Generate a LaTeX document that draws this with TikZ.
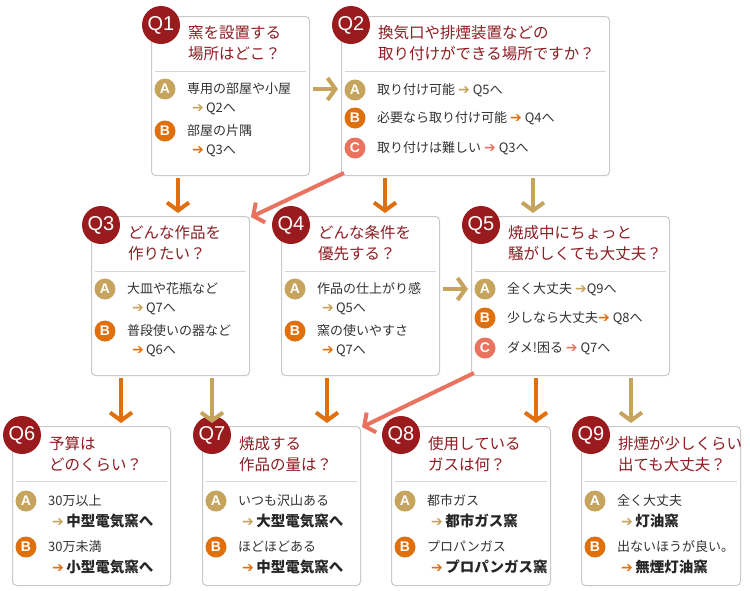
\documentclass[tikz,border=0pt]{standalone}
\usepackage{fontspec}
\setmainfont{Noto Sans CJK JP}
\newfontfamily\latf{Liberation Sans}
\newfontfamily\symf{DejaVu Sans}
\usetikzlibrary{arrows.meta,calc}
\definecolor{qred}{HTML}{9A1B1E}
\definecolor{ttlred}{HTML}{8E1C22}
\definecolor{cgold}{HTML}{C6A45E}
\definecolor{corange}{HTML}{E0700E}
\definecolor{csalmon}{HTML}{E9735E}
\definecolor{boxgray}{HTML}{C9C9C9}
\definecolor{sepgray}{HTML}{D5D5D5}
\definecolor{txtgray}{HTML}{333333}
\newcommand{\garr}[1]{{\color{#1}\symf\fontsize{14}{14}\selectfont ➔}}
\newcommand{\resline}[2]{\hspace*{4pt}{\fontsize{14.5}{21}\selectfont\bfseries\garr{#1}\,\textcolor{black!85}{#2}}}
\tikzset{
  qbox/.style={draw=boxgray, line width=1pt, rounded corners=4pt, fill=white, anchor=north west,
               minimum height=159pt, inner sep=0pt},
  qnum/.style={circle, fill=qred, text=white, minimum size=38pt, inner sep=0pt,
               font=\latf\fontsize{20}{20}\selectfont},
  qtitle/.style={anchor=west, align=left, inner sep=0pt, text=ttlred, font=\fontsize{15.5}{20.5}\selectfont},
  sep/.style={draw=sepgray, line width=0.8pt},
  letter/.style={circle, minimum size=21pt, inner sep=0pt, text=white,
                 font=\latf\bfseries\fontsize{14}{14}\selectfont},
  ans/.style={anchor=west, align=left, inner sep=0pt, text=txtgray, font=\fontsize{13}{19.5}\selectfont},
  res/.style={ans, font=\fontsize{13}{21}\selectfont},
  flow/.style={line width=4pt, -{Straight Barb[length=8pt, width=22pt]}},
}

\begin{document}
\begin{tikzpicture}[x=1pt, y=-1pt]
  \useasboundingbox (0,0) rectangle (750,590);
  % top row
  \node[qbox, minimum width=158pt] (q1) at (151,16) {};
  \node[qbox, minimum width=268pt] (q2) at (341,16) {};
  % middle row
  \node[qbox, minimum width=158pt] (q3) at (91,216) {};
  \node[qbox, minimum width=158pt] (q4) at (281,216) {};
  \node[qbox, minimum width=198pt] (q5) at (471,216) {};
  % bottom row
  \node[qbox, minimum width=158pt] (q6) at (12,426) {};
  \node[qbox, minimum width=158pt] (q7) at (202,426) {};
  \node[qbox, minimum width=159pt] (q8) at (391,426) {};
  \node[qbox, minimum width=159pt] (q9) at (581,426) {};

  % Q1
  \node[qnum] (q1n) at ($(q1.north west)+(10,9)$) {Q1};
  \node[qtitle] (q1t) at ($(q1.north west)+(37,27)$) {窯を設置する\\場所はどこ？};
  \draw[sep] ($(q1.north west)+(4,55)$) -- ($(q1.north east)+(-4,55)$);
  \node[letter, fill=cgold] (q1a) at ($(q1.north west)+(14,73)$) {A};
  \node[ans] (q1at) at ($(q1.north west)+(36,82.5)$) {専用の部屋や小屋\\\hspace*{5pt}\garr{cgold}\,Q2へ};
  \node[letter, fill=corange] (q1b) at ($(q1.north west)+(14,115)$) {B};
  \node[ans] (q1bt) at ($(q1.north west)+(36,124.5)$) {部屋の片隅\\\hspace*{5pt}\garr{corange}\,Q3へ};

  % Q2
  \node[qnum] (q2n) at ($(q2.north west)+(10,9)$) {Q2};
  \node[qtitle] (q2t) at ($(q2.north west)+(37,27)$) {換気口や排煙装置などの\\取り付けができる場所ですか？};
  \draw[sep] ($(q2.north west)+(4,55)$) -- ($(q2.north east)+(-4,55)$);
  \node[letter, fill=cgold] (q2a) at ($(q2.north west)+(14,74)$) {A};
  \node[ans] (q2at) at ($(q2.north west)+(36,74)$) {取り付け可能 \garr{cgold} Q5へ};
  \node[letter, fill=corange] (q2b) at ($(q2.north west)+(14,102)$) {B};
  \node[ans] (q2bt) at ($(q2.north west)+(36,102)$) {必要なら取り付け可能 \garr{corange} Q4へ};
  \node[letter, fill=csalmon] (q2c) at ($(q2.north west)+(14,132)$) {C};
  \node[ans] (q2ct) at ($(q2.north west)+(36,132)$) {取り付けは難しい \garr{csalmon} Q3へ};

  % Q3
  \node[qnum] (q3n) at ($(q3.north west)+(10,9)$) {Q3};
  \node[qtitle] (q3t) at ($(q3.north west)+(37,27)$) {どんな作品を\\作りたい？};
  \draw[sep] ($(q3.north west)+(4,55)$) -- ($(q3.north east)+(-4,55)$);
  \node[letter, fill=cgold] (q3a) at ($(q3.north west)+(14,73)$) {A};
  \node[ans] (q3at) at ($(q3.north west)+(36,82.5)$) {大皿や花瓶など\\\hspace*{5pt}\garr{cgold}\,Q7へ};
  \node[letter, fill=corange] (q3b) at ($(q3.north west)+(14,115)$) {B};
  \node[ans] (q3bt) at ($(q3.north west)+(36,124.5)$) {普段使いの器など\\\hspace*{5pt}\garr{corange}\,Q6へ};

  % Q4
  \node[qnum] (q4n) at ($(q4.north west)+(10,9)$) {Q4};
  \node[qtitle] (q4t) at ($(q4.north west)+(37,27)$) {どんな条件を\\優先する？};
  \draw[sep] ($(q4.north west)+(4,55)$) -- ($(q4.north east)+(-4,55)$);
  \node[letter, fill=cgold] (q4a) at ($(q4.north west)+(14,73)$) {A};
  \node[ans] (q4at) at ($(q4.north west)+(36,82.5)$) {作品の仕上がり感\\\hspace*{5pt}\garr{cgold}\,Q5へ};
  \node[letter, fill=corange] (q4b) at ($(q4.north west)+(14,115)$) {B};
  \node[ans] (q4bt) at ($(q4.north west)+(36,124.5)$) {窯の使いやすさ\\\hspace*{5pt}\garr{corange}\,Q7へ};

  % Q5
  \node[qnum] (q5n) at ($(q5.north west)+(10,9)$) {Q5};
  \node[qtitle] (q5t) at ($(q5.north west)+(37,27)$) {焼成中にちょっと\\騒がしくても大丈夫？};
  \draw[sep] ($(q5.north west)+(4,55)$) -- ($(q5.north east)+(-4,55)$);
  \node[letter, fill=cgold] (q5a) at ($(q5.north west)+(14,73)$) {A};
  \node[ans] (q5at) at ($(q5.north west)+(36,73)$) {全く大丈夫 \garr{cgold}Q9へ};
  \node[letter, fill=corange] (q5b) at ($(q5.north west)+(14,102)$) {B};
  \node[ans] (q5bt) at ($(q5.north west)+(36,102)$) {少しなら大丈夫\garr{corange} Q8へ};
  \node[letter, fill=csalmon] (q5c) at ($(q5.north west)+(14,132)$) {C};
  \node[ans] (q5ct) at ($(q5.north west)+(36,132)$) {ダメ!困る \garr{csalmon} Q7へ};

  % Q6
  \node[qnum] (q6n) at ($(q6.north west)+(10,9)$) {Q6};
  \node[qtitle] (q6t) at ($(q6.north west)+(37,28)$) {予算は\\どのくらい？};
  \draw[sep] ($(q6.north west)+(4,55)$) -- ($(q6.north east)+(-4,55)$);
  \node[letter, fill=cgold] (q6a) at ($(q6.north west)+(14,75)$) {A};
  \node[res] (q6at) at ($(q6.north west)+(36,85.5)$) {30万以上\\\resline{cgold}{中型電気窯へ}};
  \node[letter, fill=corange] (q6b) at ($(q6.north west)+(14,121)$) {B};
  \node[res] (q6bt) at ($(q6.north west)+(36,131.5)$) {30万未満\\\resline{corange}{小型電気窯へ}};

  % Q7
  \node[qnum] (q7n) at ($(q7.north west)+(10,9)$) {Q7};
  \node[qtitle] (q7t) at ($(q7.north west)+(37,28)$) {焼成する\\作品の量は？};
  \draw[sep] ($(q7.north west)+(4,55)$) -- ($(q7.north east)+(-4,55)$);
  \node[letter, fill=cgold] (q7a) at ($(q7.north west)+(14,75)$) {A};
  \node[res] (q7at) at ($(q7.north west)+(36,85.5)$) {いつも沢山ある\\\resline{cgold}{大型電気窯へ}};
  \node[letter, fill=corange] (q7b) at ($(q7.north west)+(14,121)$) {B};
  \node[res] (q7bt) at ($(q7.north west)+(36,131.5)$) {ほどほどある\\\resline{corange}{中型電気窯へ}};

  % Q8
  \node[qnum] (q8n) at ($(q8.north west)+(10,9)$) {Q8};
  \node[qtitle] (q8t) at ($(q8.north west)+(37,28)$) {使用している\\ガスは何？};
  \draw[sep] ($(q8.north west)+(4,55)$) -- ($(q8.north east)+(-4,55)$);
  \node[letter, fill=cgold] (q8a) at ($(q8.north west)+(14,75)$) {A};
  \node[res] (q8at) at ($(q8.north west)+(36,85.5)$) {都市ガス\\\resline{cgold}{都市ガス窯}};
  \node[letter, fill=corange] (q8b) at ($(q8.north west)+(14,121)$) {B};
  \node[res] (q8bt) at ($(q8.north west)+(36,131.5)$) {プロパンガス\\\resline{corange}{プロパンガス窯}};

  % Q9
  \node[qnum] (q9n) at ($(q9.north west)+(10,9)$) {Q9};
  \node[qtitle] (q9t) at ($(q9.north west)+(37,28)$) {排煙が少しくらい\\出ても大丈夫？};
  \draw[sep] ($(q9.north west)+(4,55)$) -- ($(q9.north east)+(-4,55)$);
  \node[letter, fill=cgold] (q9a) at ($(q9.north west)+(14,75)$) {A};
  \node[res] (q9at) at ($(q9.north west)+(36,85.5)$) {全く大丈夫\\\resline{cgold}{灯油窯}};
  \node[letter, fill=corange] (q9b) at ($(q9.north west)+(14,121)$) {B};
  \node[res] (q9bt) at ($(q9.north west)+(36,131.5)$) {出ないほうが良い。\\\resline{corange}{無煙灯油窯}};

  % connectors
  \draw[flow, cgold] ($(q1.east |- q1a)+(3,0)$) -- ($(q2.west |- q1a)+(-3,0)$);
  \draw[flow, cgold] ($(q4.east |- q4a)+(3,0)$) -- ($(q5.west |- q4a)+(-3,0)$);
  \draw[flow, corange] ($(q1.south west)+(27,2)$) -- ($(q1.south west |- q3.north)+(27,-3)$);
  \draw[flow, corange] ($(q2.south west)+(44,2)$) -- ($(q2.south west |- q4.north)+(44,-3)$);
  \draw[flow, cgold] ($(q2.south west)+(192,2)$) -- ($(q2.south west |- q5.north)+(192,-3)$);
  \draw[flow, csalmon] ($(q2.south west)+(3,-3)$) -- ($(q3.north east)+(1,1)$);
  \draw[flow, corange] ($(q3.south west)+(30,2)$) -- ($(q3.south west |- q6.north)+(30,-3)$);
  \draw[flow, cgold] ($(q3.south west)+(121,2)$) -- ($(q3.south west |- q7.north)+(121,-3)$);
  \draw[flow, corange] ($(q4.south west)+(46,2)$) -- ($(q4.south west |- q7.north)+(46,-3)$);
  \draw[flow, csalmon] ($(q5.south west)+(3,-3)$) -- ($(q7.north east)+(1,1)$);
  \draw[flow, corange] ($(q5.south west)+(65,2)$) -- ($(q5.south west |- q8.north)+(65,-3)$);
  \draw[flow, cgold] ($(q5.south west)+(160,2)$) -- ($(q5.south west |- q9.north)+(160,-3)$);
\end{tikzpicture}
\end{document}
